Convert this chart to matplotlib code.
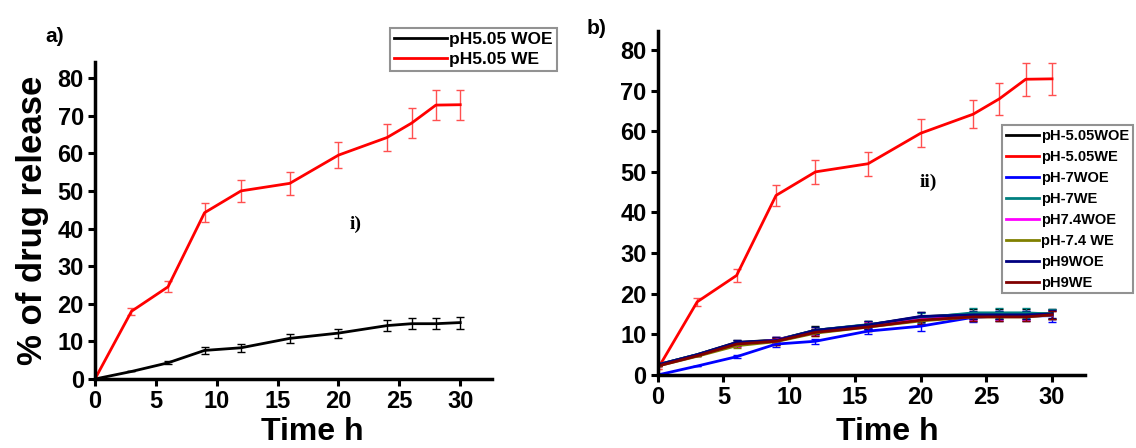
import numpy as np
import matplotlib
matplotlib.use("Agg")
import matplotlib.pyplot as plt
from matplotlib.lines import Line2D

plt.rcParams["font.family"] = ["Liberation Sans", "DejaVu Sans"]
plt.rcParams["font.weight"] = "bold"

# time points (h)
t = [0, 3, 6, 9, 12, 16, 20, 24, 26, 28, 30]

# panel a
a_woe = [0, 2.0, 4.3, 7.6, 8.3, 10.8, 12.2, 14.2, 14.7, 14.7, 15.0]
a_woe_err = [0, 0, 0.4, 1.0, 1.0, 1.2, 1.2, 1.5, 1.5, 1.5, 1.6]
a_we = [0, 18.0, 24.5, 44.2, 50.0, 52.0, 59.5, 64.2, 68.0, 72.8, 72.9]
a_we_err = [0, 1.0, 1.5, 2.5, 3.0, 3.0, 3.5, 3.5, 4.0, 4.0, 4.0]

# panel b
b_labels = ["pH-5.05WOE", "pH-5.05WE", "pH-7WOE", "pH-7WE",
            "pH7.4WOE", "pH-7.4 WE", "pH9WOE", "pH9WE"]
b_colors = ["#000000", "#ff0000", "#0000ff", "#008080",
            "#ff00ff", "#808000", "#000080", "#800000"]
b_vals = [
    [2.5, 5.0, 8.0, 8.6, 11.0, 12.3, 14.3, 15.0, 15.0, 15.0, 15.1],
    [1.5, 18.0, 24.5, 44.2, 50.0, 52.0, 59.5, 64.2, 68.0, 72.8, 72.9],
    [0, 2.2, 4.5, 7.6, 8.3, 10.8, 12.0, 14.2, 14.5, 14.5, 14.6],
    [2.5, 5.0, 7.8, 8.5, 11.0, 12.4, 14.0, 15.3, 15.3, 15.3, 15.0],
    [2.3, 4.8, 7.5, 8.6, 10.6, 12.0, 13.6, 14.6, 14.6, 14.6, 14.8],
    [2.2, 4.6, 7.2, 8.2, 10.3, 11.8, 13.3, 14.3, 14.3, 14.3, 14.8],
    [2.5, 5.0, 8.0, 8.5, 11.0, 12.3, 14.4, 14.8, 14.8, 14.8, 15.0],
    [2.2, 4.7, 7.6, 8.3, 10.5, 11.8, 13.5, 14.3, 14.3, 14.3, 14.8],
]
b_errs = [
    [0, 0, 0.5, 0.8, 1.0, 1.0, 1.2, 1.2, 1.2, 1.2, 1.2],
    [0, 1.0, 1.5, 2.5, 3.0, 3.0, 3.5, 3.5, 4.0, 4.0, 4.0],
    [0, 0, 0.4, 0.6, 0.6, 0.8, 1.2, 1.2, 1.2, 1.2, 1.5],
    [0, 0, 0.5, 0.8, 0.8, 1.0, 1.2, 1.2, 1.2, 1.2, 1.2],
    [0, 0, 0.5, 0.8, 0.8, 1.0, 1.0, 1.0, 1.0, 1.0, 1.0],
    [0, 0, 0.5, 0.8, 0.8, 1.0, 1.0, 1.0, 1.0, 1.0, 1.0],
    [0, 0, 0.5, 0.8, 0.8, 1.0, 1.0, 1.0, 1.0, 1.0, 1.0],
    [0, 0, 0.5, 0.8, 0.8, 1.0, 1.0, 1.0, 1.0, 1.0, 1.0],
]


def style_axes(ax, xmax, ymax):
    ax.spines["top"].set_visible(False)
    ax.spines["right"].set_visible(False)
    ax.spines["left"].set_linewidth(2.5)
    ax.spines["bottom"].set_linewidth(2.5)
    ax.set_xlim(0, xmax)
    ax.set_ylim(0, ymax)
    ax.set_xticks([0, 5, 10, 15, 20, 25, 30])
    ax.set_yticks([0, 10, 20, 30, 40, 50, 60, 70, 80])
    ax.tick_params(direction="out", width=2.2, length=5, labelsize=17, pad=3)
    for lab in ax.get_xticklabels() + ax.get_yticklabels():
        lab.set_fontweight("bold")


def make_legend(ax, handles, anchor, loc, fs, hl, spacing):
    leg = ax.legend(handles=handles, loc=loc, bbox_to_anchor=anchor,
                    bbox_transform=fig.transFigure, fontsize=fs, frameon=True,
                    fancybox=False, edgecolor="#777777", handlelength=hl,
                    handletextpad=0.15, borderpad=0.25, labelspacing=spacing,
                    borderaxespad=0)
    leg.get_frame().set_linewidth(1.5)
    for txt in leg.get_texts():
        txt.set_fontweight("bold")
    return leg


fig = plt.figure(figsize=(11.36, 4.48), dpi=100)

# ---- panel a
ax1 = fig.add_axes([0.0836, 0.154, 0.3494, 0.708])
ax1.errorbar(t, a_woe, yerr=a_woe_err, color="black", lw=2, capsize=3,
             elinewidth=1, capthick=1)
ax1.errorbar(t, a_we, yerr=a_we_err, color="#ff0000", lw=2, capsize=3,
             elinewidth=1, capthick=1, ecolor="#ff5050")
style_axes(ax1, 32.6, 84.3)
ax1.set_ylabel("% of drug release", fontsize=25, fontweight="bold", labelpad=6)
ax1.text(21.4, 41, "i)", fontsize=14, fontweight="bold", family="Liberation Serif",
         ha="center", va="center")
h1 = [Line2D([], [], color="black", lw=2, label="pH5.05 WOE"),
      Line2D([], [], color="#ff0000", lw=2, label="pH5.05 WE")]
make_legend(ax1, h1, (557 / 1136, 1 - 28 / 448), "upper right", 12.5, 3.0, 0.25)

# ---- panel b
ax2 = fig.add_axes([0.579, 0.163, 0.376, 0.768])
for vals, errs, col in zip(b_vals, b_errs, b_colors):
    ecol = "#ff5050" if col == "#ff0000" else col
    ax2.errorbar(t, vals, yerr=errs, color=col, lw=2, capsize=3,
                 elinewidth=1, capthick=1, ecolor=ecol)
style_axes(ax2, 32.5, 84.7)
ax2.text(20.6, 47.5, "ii)", fontsize=14, fontweight="bold", family="Liberation Serif",
         ha="center", va="center")
h2 = [Line2D([], [], color=c, lw=2, label=l) for c, l in zip(b_colors, b_labels)]
make_legend(ax2, h2, (1002 / 1136, 1 - 125 / 448), "upper left", 10.5, 2.3, 0.48)

# x labels, pushed to the bottom edge
fig.text(312 / 1136, 1.5 / 448, "Time h", fontsize=23, fontweight="bold",
         ha="center", va="bottom")
fig.text(887 / 1136, 1.5 / 448, "Time h", fontsize=23, fontweight="bold",
         ha="center", va="bottom")

# panel tags
fig.text(55 / 1136, 1 - 36 / 448, "a)", fontsize=15, fontweight="bold",
         ha="center", va="center")
fig.text(597 / 1136, 1 - 28 / 448, "b)", fontsize=15, fontweight="bold",
         ha="center", va="center")

fig.savefig("out.png", dpi=100)
